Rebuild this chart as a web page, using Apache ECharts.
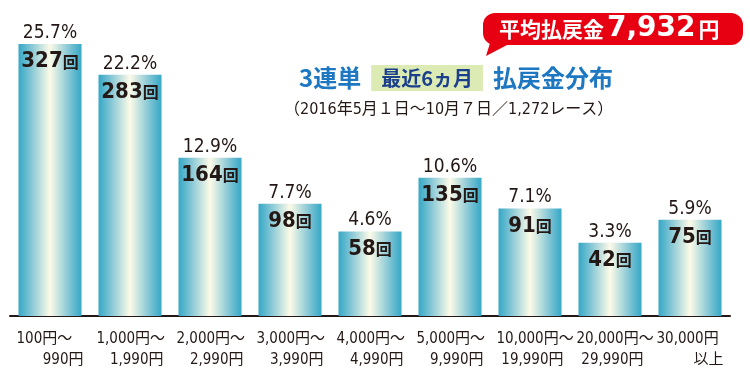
<!DOCTYPE html>
<html>
<head>
<meta charset="utf-8">
<script src="https://cdn.jsdelivr.net/npm/echarts@6/dist/echarts.min.js"></script>
<style>
html,body{margin:0;padding:0;background:#fff;}
#chart{width:750px;height:381px;}
</style>
</head>
<body>
<div id="chart"></div>
<script>
// ---- data ----
const categories = [
  '100円～\n990円',
  '1,000円～\n1,990円',
  '2,000円～\n2,990円',
  '3,000円～\n3,990円',
  '4,000円～\n4,990円',
  '5,000円～\n9,990円',
  '10,000円～\n19,990円',
  '20,000円～\n29,990円',
  '30,000円\n以上'
];
const counts = [327, 283, 164, 98, 58, 135, 91, 42, 75];
const percents = [25.7, 22.2, 12.9, 7.7, 4.6, 10.6, 7.1, 3.3, 5.9];
const averagePayout = '7,932';
const titleMain = '3連単';
const titleTag = '最近6ヵ月';
const titleTail = '払戻金分布';
const subtitle = '（2016年5月１日～10月７日／1,272レース）';

// visual floor of the printed chart (bars extend below the zero level)
const axisFloor = 63.1;

const NARROW = '"Liberation Sans Narrow", "DejaVu Sans Condensed", "Noto Sans CJK JP", sans-serif';
const CJK = '"Noto Sans CJK JP", sans-serif';
const INK = '#231815';

const chart = echarts.init(document.getElementById('chart'), null, {renderer: 'canvas'});

function barGradient() {
  return new echarts.graphic.LinearGradient(0, 0, 1, 0, [
    {offset: 0, color: '#34a8c6'},
    {offset: 0.18, color: '#7cc3d4'},
    {offset: 0.5, color: '#fdfbe8'},
    {offset: 0.82, color: '#7cc3d4'},
    {offset: 1, color: '#34a8c6'}
  ]);
}

const option = {
  animation: false,
  backgroundColor: '#ffffff',
  title: [
    {
      left: 294, top: 59,
      text: '{a|' + titleMain + '}{g| }{b|' + titleTag + '}{g| }{a|' + titleTail + '}',
      textStyle: {
        rich: {
          a: {fontFamily: CJK, fontWeight: 'bold', fontSize: 24, color: '#1e77c1', lineHeight: 28},
          g: {width: 10, fontSize: 10},
          b: {fontFamily: CJK, fontWeight: 'bold', fontSize: 20, color: '#1b3f8c',
              backgroundColor: '#dcebb3', padding: [3, 10, 3, 10], lineHeight: 22}
        }
      }
    },
    {
      left: 279, top: 97,
      text: subtitle,
      textStyle: {fontFamily: NARROW, fontWeight: 'normal', fontSize: 16, color: INK}
    }
  ],
  grid: {left: 10, width: 720, top: 44, bottom: 65, containLabel: false},
  xAxis: {
    type: 'category',
    data: categories,
    axisLine: {lineStyle: {color: INK, width: 2}},
    axisTick: {show: false},
    axisLabel: {
      interval: 0,
      margin: 13,
      formatter: function (v) {
        const parts = v.split('\n');
        return '{l|' + parts[0] + '}\n{r|' + parts[1] + '}';
      },
      rich: {
        l: {fontFamily: NARROW, fontSize: 15, color: INK, width: 67, align: 'left', lineHeight: 21},
        r: {fontFamily: NARROW, fontSize: 15, color: INK, width: 67, align: 'right', lineHeight: 21}
      }
    }
  },
  yAxis: {
    type: 'value',
    min: 0,
    max: axisFloor + 327,
    show: false,
    splitLine: {show: false}
  },
  series: [
    {
      type: 'bar',
      stack: 'total',
      silent: true,
      barWidth: 63,
      data: categories.map(() => axisFloor),
      itemStyle: {color: barGradient()}
    },
    {
      type: 'bar',
      stack: 'total',
      barWidth: 63,
      data: counts,
      itemStyle: {color: barGradient()},
      label: {
        show: true,
        position: 'insideTop',
        distance: 0,
        offset: [0, -23],
        formatter: function (p) {
          return '{p|' + percents[p.dataIndex].toFixed(1) + '%}\n{c|' + counts[p.dataIndex] + '}{k|回}';
        },
        rich: {
          p: {fontFamily: NARROW, fontSize: 19, color: INK, lineHeight: 24},
          c: {fontFamily: NARROW, fontWeight: 'bold', fontSize: 22, color: INK, lineHeight: 33},
          k: {fontFamily: CJK, fontWeight: 'bold', fontSize: 16, color: INK, lineHeight: 33}
        }
      }
    }
  ],
  graphic: [
    {
      type: 'rect',
      shape: {x: 483, y: 13, width: 260, height: 32, r: 12},
      style: {fill: '#e60012'}
    },
    {
      type: 'polygon',
      shape: {points: [[491, 40], [486, 56], [509, 44]]},
      style: {fill: '#e60012'}
    },
    {
      type: 'text',
      x: 499, y: 29,
      style: {
        text: '{a|平均払戻金}{b|' + averagePayout + '}{a|円}',
        verticalAlign: 'middle',
        rich: {
          a: {fontFamily: CJK, fontWeight: 'bold', fontSize: 21, fill: '#ffffff'},
          b: {fontFamily: '"DejaVu Sans", sans-serif', fontWeight: 'bold', fontSize: 28, fill: '#ffffff', padding: [0, 3, 0, 3]}
        }
      }
    }
  ]
};

chart.setOption(option);
</script>
</body>
</html>
